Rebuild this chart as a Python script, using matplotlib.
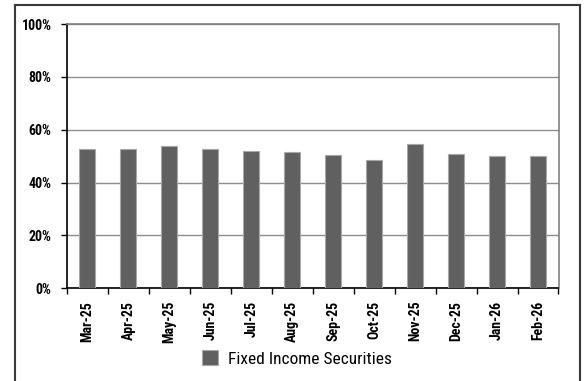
import numpy as np
import matplotlib
matplotlib.use("Agg")
import matplotlib.pyplot as plt
from matplotlib.lines import Line2D
from matplotlib.ticker import FixedLocator, PercentFormatter

months = ["Mar-25", "Apr-25", "May-25", "Jun-25", "Jul-25", "Aug-25",
          "Sep-25", "Oct-25", "Nov-25", "Dec-25", "Jan-26", "Feb-26"]
fixed_income = [52.6, 52.6, 54.0, 52.6, 52.1, 51.5,
                50.3, 48.7, 54.5, 50.8, 49.9, 49.9]
series_name = "Fixed Income Securities"

plt.rcParams["font.family"] = ["Roboto Condensed", "Liberation Sans Narrow",
                               "Roboto", "DejaVu Sans"]

fig = plt.figure(figsize=(5.84, 3.81), dpi=100)
ax = fig.add_axes([67 / 584, 1 - 288.3 / 381, (558.5 - 67) / 584, (288.3 - 24) / 381])

x = np.arange(len(months))
ax.bar(x, fixed_income, width=0.39, color="#606060", edgecolor="#a8a8a8",
       linewidth=0.8, label=series_name, zorder=3)

ax.set_xlim(-0.5, len(months) - 0.5)
ax.set_ylim(0, 100)
ax.set_yticks(np.arange(0, 101, 20))
ax.yaxis.set_major_formatter(PercentFormatter(decimals=0))
ax.grid(axis="y", color="#8c8c8c", linewidth=1.0, zorder=0)

# labels sit at the bar centres, tick marks at the category edges
ax.set_xticks(x)
ax.set_xticklabels(months, rotation=90, fontsize=10, fontweight="bold")
ax.xaxis.set_minor_locator(FixedLocator(np.arange(-0.5, len(months) + 0.5, 1)))
ax.tick_params(axis="x", which="major", length=0, pad=9)
ax.tick_params(axis="x", which="minor", length=4, width=1, color="black", direction="out")
ax.tick_params(axis="y", length=4, width=1, color="black", direction="out", pad=7,
               labelsize=10)
for lbl in ax.get_yticklabels():
    lbl.set_fontweight("bold")

for side in ("left", "bottom"):
    ax.spines[side].set_color("black")
    ax.spines[side].set_linewidth(1.2)
for side in ("top", "right"):
    ax.spines[side].set_color("#808080")
    ax.spines[side].set_linewidth(1.2)

# outer frame around the chart
frame = dict(color="#3a3a3a", linewidth=1.5, transform=fig.transFigure)
x0, x1, ytop = 14.5 / 584, 580 / 584, 1 - 5 / 381
fig.add_artist(Line2D([x0, x0], [0, ytop], **frame))
fig.add_artist(Line2D([x0, x1], [ytop, ytop], **frame))
fig.add_artist(Line2D([x1, x1], [0, ytop], **frame))

fig.legend(loc="center", bbox_to_anchor=(297 / 584, 1 - 358.5 / 381),
           frameon=False, fontsize=12.5, handlelength=0.9, handleheight=0.9,
           handletextpad=0.6)

fig.savefig("out.png", dpi=100)
